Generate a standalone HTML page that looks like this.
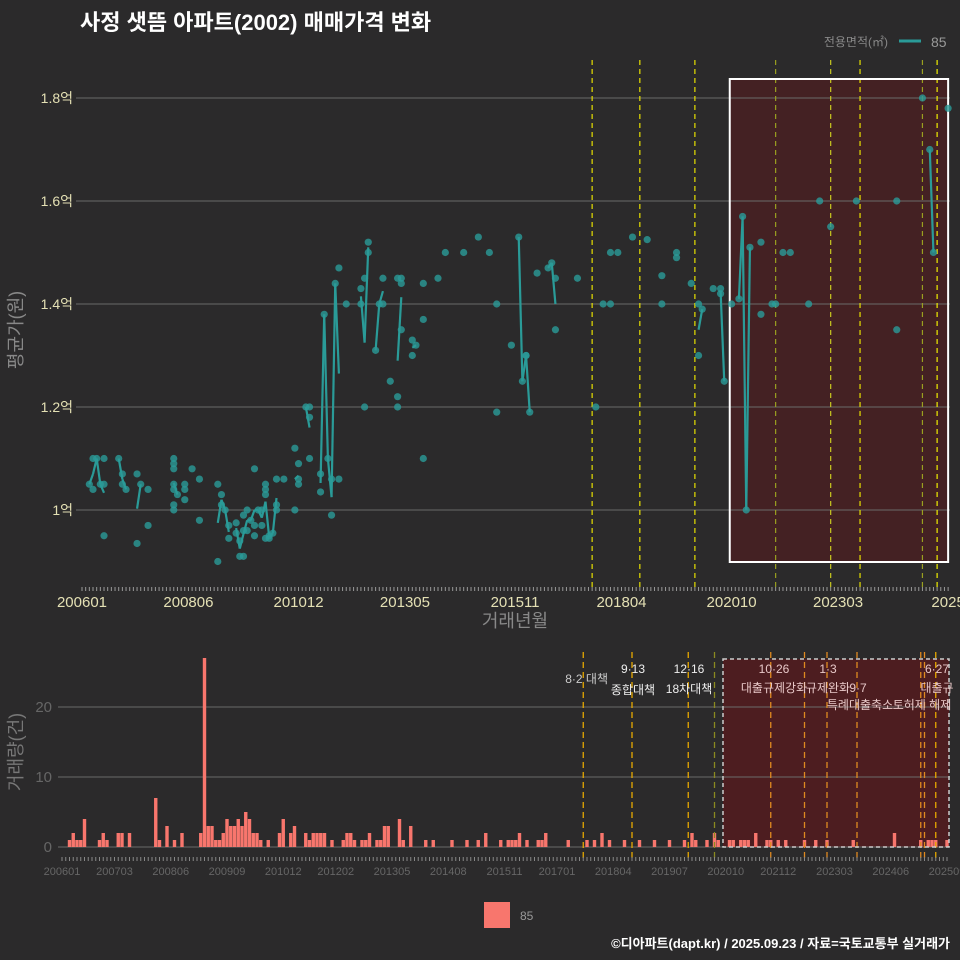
<!DOCTYPE html>
<html><head><meta charset="utf-8"><style>
html,body{margin:0;padding:0;background:#2b2a2b;}
svg{display:block;font-family:"Liberation Sans","Noto Sans CJK KR",sans-serif;}
</style></head><body>
<svg id="c" width="960" height="960" viewBox="0 0 960 960" xmlns="http://www.w3.org/2000/svg">
<rect width="960" height="960" fill="#2b2a2b"/>
<g id="g"></g>
</svg>
<script>
// ---- data ----
// price points: month index (0 = 2006-01) and price in 억
const priceMonths = [2,3,3,4,6,5,6,6,10,11,11,12,15,16,15,18,18,25,25,25,25,25,26,25,25,28,28,28,30,32,32,37,37,38,38,39,40,40,42,42,43,43,44,44,45,44,45,46,47,47,48,49,49,50,51,51,52,47,50,50,50,53,53,53,55,58,59,59,59,58,61,62,62,62,65,65,66,67,68,68,69,70,70,72,76,76,77,78,78,77,80,81,82,82,84,86,86,86,87,87,87,90,90,91,93,93,93,97,99,104,108,111,113,113,117,119,120,121,121,122,124,127,128,129,129,135,140,142,144,144,146,150,154,158,158,162,162,166,168,168,169,172,174,174,175,177,179,180,181,182,185,185,188,189,191,193,198,201,204,211,222,222,229,231,232,236];
const priceValues = [1.05,1.04,1.10,1.10,1.10,1.05,1.05,0.95,1.10,1.07,1.05,1.04,1.07,1.05,0.935,1.04,0.97,1.10,1.09,1.08,1.05,1.04,1.03,1.01,1.00,1.05,1.04,1.02,1.08,1.06,0.98,1.05,0.90,1.03,1.01,1.00,0.97,0.945,0.975,0.955,0.94,0.91,0.91,0.96,0.96,0.99,1.0,0.98,0.97,0.95,1.0,1.0,0.97,0.945,0.95,0.945,0.955,1.08,1.05,1.03,1.04,1.0,1.01,1.06,1.06,1.12,1.09,1.06,1.05,1.0,1.2,1.2,1.18,1.1,1.07,1.035,1.38,1.10,0.99,1.06,1.44,1.47,1.06,1.40,1.40,1.43,1.45,1.50,1.52,1.20,1.31,1.40,1.45,1.40,1.25,1.22,1.20,1.45,1.45,1.44,1.35,1.33,1.30,1.32,1.37,1.44,1.10,1.45,1.50,1.50,1.53,1.50,1.40,1.19,1.32,1.53,1.25,1.30,1.30,1.19,1.46,1.47,1.48,1.45,1.35,1.45,1.20,1.40,1.50,1.40,1.50,1.53,1.525,1.40,1.455,1.50,1.49,1.44,1.40,1.30,1.39,1.43,1.43,1.42,1.25,1.40,1.41,1.57,1.00,1.51,1.52,1.38,1.40,1.40,1.50,1.50,1.40,1.60,1.55,1.60,1.60,1.35,1.80,1.70,1.50,1.78];
// volume bars: month index and count
const volMonths = [2,3,4,5,6,10,11,12,15,16,18,25,26,28,30,32,37,38,39,40,41,42,43,44,45,46,47,48,49,50,51,52,53,55,58,59,61,62,65,66,67,68,69,70,72,75,76,77,78,80,81,82,84,85,86,87,90,91,93,97,99,104,108,111,113,117,119,120,121,122,124,127,128,129,135,140,142,144,146,150,154,158,162,166,168,169,172,174,175,178,179,181,182,183,185,188,189,191,193,198,201,204,211,222,229,231,232,233,236];
const volCounts = [1,2,1,1,4,1,2,1,2,2,2,7,1,3,1,2,2,27,3,3,1,1,2,4,3,3,4,3,5,4,2,2,1,1,2,4,2,3,2,1,2,2,2,2,1,1,2,2,1,1,1,2,1,1,3,3,4,1,3,1,1,1,1,1,2,1,1,1,1,2,1,1,1,2,1,1,1,2,1,1,1,1,1,1,2,1,1,2,1,1,1,1,1,1,2,1,1,1,1,1,1,1,1,2,1,1,1,1,1];
const priceTicks = [1.0,1.2,1.4,1.6,1.8];
const priceTickLabels = ["1억","1.2억","1.4억","1.6억","1.8억"];
const volTicks = [0,10,20];
const topXLabels = ["200601","200806","201012","201305","201511","201804","202010","202303","2025"];
const topXLabelMonths = [0,29,59,88,118,147,177,206,236];
const botXLabels = ["200601","200703","200806","200909","201012","201202","201305","201408","201511","201701","201804","201907","202010","202112","202303","202406","202509"];
const botXLabelMonths = [0,14,29,44,59,73,88,103,118,132,147,162,177,191,206,221,236];
const eventMonths = [139,152,167,189,204,212,229,233];
const botEventMonths = [139,152,167,174,189,198,204,212,229,230,233];

// ---- scales ----
const xT = m => 82 + m*3.67;
const yT = v => 510 - (v-1.0)*515;
const xB = m => 62 + m*3.75;
const yB = v => 847 - v*7;

const NS="http://www.w3.org/2000/svg";
const g=document.getElementById('g');
function mk(tag,attrs,parent,text){const e=document.createElementNS(NS,tag);for(const k in attrs)e.setAttribute(k,attrs[k]);if(text!==undefined)e.textContent=text;(parent||g).appendChild(e);return e;}

// title
let e;
e=mk('text',{x:80,y:30,fill:'#fff','font-size':22,'font-weight':'bold'},g,'사정 샛뜸 아파트(2002) 매매가격 변화');


// legend top
e=mk('text',{x:888,y:46,fill:'#888','font-size':12,'text-anchor':'end'},g,'전용면적(㎡)');


e=mk('line',{x1:899,x2:921,y1:41,y2:41,stroke:'#2a9b98','stroke-width':3});


e=mk('text',{x:931,y:47,fill:'#999','font-size':14},g,'85');



// top highlight rect
e=mk('rect',{x:xT(176.5),y:79,width:xT(236)-xT(176.5),height:483,fill:'#5a1a1e','fill-opacity':0.55,stroke:'none'});



// top grid
priceTicks.forEach((t,i)=>{
  e=mk('line',{x1:76,x2:950,y1:yT(t),y2:yT(t),stroke:'#6a6a6a','stroke-width':1});
  
  
  e=mk('text',{x:73,y:yT(t)+5,fill:'#e4e0b4','font-size':14,'text-anchor':'end'},g,priceTickLabels[i]);
  
  
});
// event lines top
const topEvCol=['#e6e000','#e6e000','#e6e000','#9aa020','#c8c820','#e6e000','#9aa020','#f0f000'];
eventMonths.forEach((m,i)=>{
  e=mk('line',{x1:xT(m),x2:xT(m),y1:60,y2:588,stroke:topEvCol[i],'stroke-width':1.2,'stroke-dasharray':'5,4'});
  
  
});
e=mk('rect',{x:xT(176.5),y:79,width:xT(236)-xT(176.5),height:483,fill:'none',stroke:'#fff','stroke-width':2});



// line: monthly averages, connecting consecutive months
const avg={};
priceMonths.forEach((m,i)=>{(avg[m]=avg[m]||[]).push(priceValues[i]);});
const ms=Object.keys(avg).map(Number).sort((a,b)=>a-b);
for(let i=1;i<ms.length;i++){
  if(ms[i]-ms[i-1]===1){
    const a=avg[ms[i-1]],b=avg[ms[i]];
    const va=a.reduce((s,x)=>s+x,0)/a.length, vb=b.reduce((s,x)=>s+x,0)/b.length;
    e=mk('line',{x1:xT(ms[i-1]),y1:yT(va),x2:xT(ms[i]),y2:yT(vb),stroke:'#2a9b98','stroke-width':2.2});
    
    
  }
}
priceMonths.forEach((m,i)=>{
  e=mk('circle',{cx:xT(m),cy:yT(priceValues[i]),r:3.6,fill:'#2a9b98','fill-opacity':0.8});
  
  
});
// top x ticks
for(let m=0;m<=236;m++){
  e=mk('line',{x1:xT(m),x2:xT(m),y1:587,y2:591,stroke:'#999','stroke-width':1});
  
  
}
topXLabels.forEach((l,i)=>{
  e=mk('text',{x:xT(topXLabelMonths[i]),y:607,fill:'#e4e0b4','font-size':15,'text-anchor':'middle'},g,l);
  
  
});
e=mk('text',{x:515,y:627,fill:'#888','font-size':18,'text-anchor':'middle'},g,'거래년월');


e=mk('text',{x:0,y:0,fill:'#888','font-size':18,'text-anchor':'middle',transform:'translate(22,330) rotate(-90)'},g,'평균가(원)');



// ---- bottom chart ----
e=mk('rect',{x:723,y:659,width:226,height:188,fill:'#5a1a1e','fill-opacity':0.75});


volTicks.forEach(t=>{
  e=mk('line',{x1:58,x2:950,y1:yB(t),y2:yB(t),stroke:'#6a6a6a','stroke-width':1});
  
  
  e=mk('text',{x:52,y:yB(t)+5,fill:'#666','font-size':15,'text-anchor':'end'},g,String(t));
  
  
});
volMonths.forEach((m,i)=>{
  e=mk('rect',{x:xB(m)-1.7,y:yB(volCounts[i]),width:3.4,height:volCounts[i]*7,fill:'#f8766d'});
  
  
});
const botEvCol=['#e6a800','#e6a800','#e6a800','#8a8a20','#e08a20','#e08a20','#e08a20','#e08a20','#e08a20','#e08a20','#e6a800'];
botEventMonths.forEach((m,i)=>{
  e=mk('line',{x1:xB(m),x2:xB(m),y1:652,y2:858,stroke:botEvCol[i],'stroke-width':1.3,'stroke-dasharray':'6,4'});
  
  
});
e=mk('rect',{x:723,y:659,width:226,height:188,fill:'none',stroke:'#ccc','stroke-width':1.5,'stroke-dasharray':'4,3'});


const ann=[[608,683,'8·2 대책','#ccc','end'],[633,673,'9·13','#eee','middle'],[633,694,'종합대책','#eee','middle'],[689,673,'12·16','#eee','middle'],[689,693,'18차대책','#eee','middle'],[774,673,'10·26','#e8c8c8','middle'],[774,692,'대출규제강화','#e8c8c8','middle'],[828,673,'1·3','#e8c8c8','middle'],[828,692,'규제완화','#e8c8c8','middle'],[858,692,'9·7','#e8c8c8','middle'],[860,709,'특례대출축소','#e8c8c8','middle'],[922,709,'토허제 해제','#e8c8c8','middle'],[937,673,'6·27','#e8c8c8','middle'],[937,692,'대출규','#e8c8c8','middle']];
ann.forEach(a=>{
  e=mk('text',{x:a[0],y:a[1],fill:a[3],'font-size':12,'text-anchor':a[4]},g,a[2]);
  
  
});
for(let m=0;m<=236;m++){
  e=mk('line',{x1:xB(m),x2:xB(m),y1:857,y2:861,stroke:'#888','stroke-width':1});
  
  
}
botXLabels.forEach((l,i)=>{
  e=mk('text',{x:xB(botXLabelMonths[i]),y:875,fill:'#666','font-size':11,'text-anchor':'middle'},g,l);
  
  
});
e=mk('text',{x:0,y:0,fill:'#777','font-size':18,'text-anchor':'middle',transform:'translate(22,752) rotate(-90)'},g,'거래량(건)');


e=mk('rect',{x:484,y:902,width:26,height:26,fill:'#f8766d'});


e=mk('text',{x:520,y:920,fill:'#999','font-size':12},g,'85');


e=mk('text',{x:950,y:948,fill:'#fff','font-size':13,'font-weight':'bold','text-anchor':'end'},g,'©디아파트(dapt.kr) / 2025.09.23 / 자료=국토교통부 실거래가');


</script>
</body></html>
